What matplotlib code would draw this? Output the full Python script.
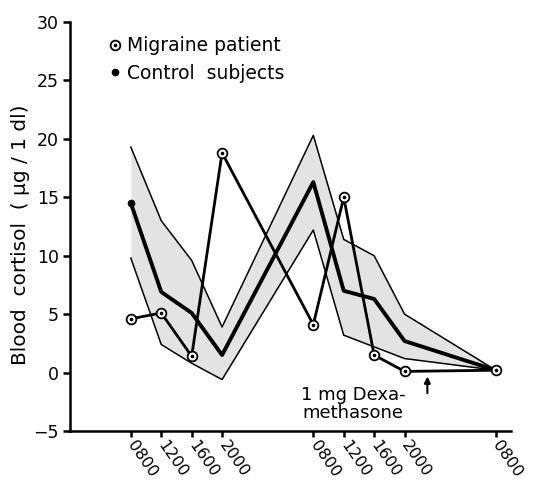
import numpy as np
import matplotlib
matplotlib.use('Agg')
import matplotlib.pyplot as plt
from matplotlib.lines import Line2D
from matplotlib.legend_handler import HandlerTuple

# sampling times in hours from midnight of day 1
hours = [8, 12, 16, 20, 32, 36, 40, 44, 56]
tick_labels = ['0800', '1200', '1600', '2000', '0800', '1200', '1600', '2000', '0800']

migraine = [4.6, 5.1, 1.4, 18.8, 4.1, 15.0, 1.5, 0.1, 0.2]
control = [14.5, 6.9, 5.1, 1.5, 16.3, 7.0, 6.3, 2.7, 0.2]
control_upper = [19.3, 13.0, 9.6, 3.9, 20.3, 11.4, 10.0, 5.0, 0.2]
control_lower = [9.8, 2.4, 0.8, -0.6, 12.2, 3.2, 2.2, 1.2, 0.2]

dexa_time = 47
dexa_text = '1 mg Dexa-\nmethasone'

plt.rcParams['font.family'] = 'DejaVu Sans'

fig = plt.figure(figsize=(5.35, 4.86), dpi=100)
ax = fig.add_axes([70 / 535, 55 / 486, 441 / 535, 409 / 486])

# shaded range of control subjects
ax.fill_between(hours, control_lower, control_upper, color='#e3e3e3', lw=0, zorder=1)
ax.plot(hours, control_upper, color='k', lw=1.1, zorder=2)
ax.plot(hours, control_lower, color='k', lw=1.1, zorder=2)

# control mean
ax.plot(hours, control, color='k', lw=2.8, zorder=3)
ax.plot(hours[0], control[0], 'o', color='k', ms=4.5, zorder=4)

# migraine patient
ax.plot(hours, migraine, color='k', lw=2.0, zorder=5)
ax.plot(hours, migraine, 'o', mfc='white', mec='k', ms=7, mew=1.3, zorder=6)
ax.plot(hours, migraine, 'o', color='k', ms=1.6, zorder=7)

# dexamethasone arrow + note
ax.annotate('', xy=(dexa_time, -0.1), xytext=(dexa_time, -2.0),
            arrowprops=dict(arrowstyle='-|>', color='k', lw=1.5, mutation_scale=9))
ax.text(37.2, -2.7, dexa_text, ha='center', va='center', fontsize=13, linespacing=1.0)

ax.set_xlim(0, 58)
ax.set_ylim(-5, 30)
ax.set_yticks(np.arange(-5, 31, 5))
ax.set_xticks(hours)
ax.set_xticklabels(tick_labels, rotation=-55, ha='left', va='center',
                   rotation_mode='anchor', fontsize=11.5)
ax.tick_params(axis='x', length=4, width=1.8, pad=4)
ax.tick_params(axis='y', length=5, width=1.8, labelsize=12.5, pad=3)

for s in ['top', 'right']:
    ax.spines[s].set_visible(False)
for s in ['left', 'bottom']:
    ax.spines[s].set_linewidth(1.8)

ax.set_ylabel('Blood  cortisol  ( \u03bcg / 1 dl)', fontsize=14.5)
ax.yaxis.set_label_coords(-0.09, 0.48)

# legend
h_mig = (Line2D([], [], ls='none', marker='o', mfc='white', mec='k', ms=7, mew=1.3),
         Line2D([], [], ls='none', marker='o', color='k', ms=1.6))
h_con = Line2D([], [], ls='none', marker='o', color='k', ms=4.5)
ax.legend([h_mig, h_con], ['Migraine patient', 'Control  subjects'],
          handler_map={tuple: HandlerTuple(ndivide=1, pad=0)},
          loc='upper left', bbox_to_anchor=(0.09, 0.965), frameon=False,
          fontsize=13.5, handlelength=0.6, handletextpad=0.3,
          labelspacing=0.45, borderpad=0, borderaxespad=0)

fig.savefig('out.png', dpi=100)
